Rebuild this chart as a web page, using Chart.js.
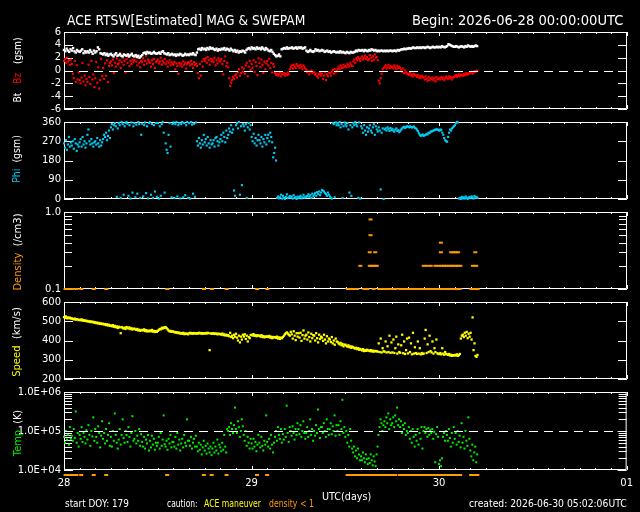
<!DOCTYPE html>
<html>
<head>
<meta charset="utf-8">
<script src="https://cdn.jsdelivr.net/npm/chart.js@4"></script>
<style>
  html, body { margin: 0; background: #000; }
  #wrap { position: relative; width: 640px; height: 512px; overflow: hidden; background: #000;
          font-family: "DejaVu Sans", sans-serif; color: #fff; }
  canvas { position: absolute; left: 0; }
  .t { position: absolute; white-space: pre; line-height: 1; }
</style>
</head>
<body>
<div id="wrap"></div>
<script>
// ACE RTSW 3-day plot: MAG + SWEPAM, hours since 2026-06-28 00:00 UTC.
// One row per hour, samples evenly spread inside the hour.

const dayTicks = [0, 24, 48, 72];
const dayLabels = ['28', '29', '30', '01'];

const bTicks = [-6, -4, -2, 0, 2, 4, 6];
const bTickLabels = ['-6', '-4', '-2', '0', '2', '4', '6'];
const phiTicks = [0, 90, 180, 270, 360];
const phiTickLabels = ['0', '90', '180', '270', '360'];
const densityTicks = [0.1, 1];
const densityTickLabels = ['0.1', '1.0'];
const speedTicks = [200, 300, 400, 500, 600];
const speedTickLabels = ['200', '300', '400', '500', '600'];
const tempTicks = [1e4, 1e5, 1e6];
const tempTickLabels = ['1.0E+04', '1.0E+05', '1.0E+06'];

// Bt (nT)
const btRows = [
  [3.2,3.0,3.4,3.1,2.9,3.3],[3.1,3.5,3.0,2.8,3.2,3.0],[2.9,3.1,3.3,2.7,3.0,2.8],[3.0,2.8,3.2,2.9,2.6,3.1],
  [2.8,3.0,3.6,3.3,2.7,2.6],[2.5,2.7,2.4,2.6,2.3,2.5],[2.6,2.4,2.2,2.5,2.7,2.3],[2.4,2.6,2.3,2.2,2.5,2.4],
  [2.3,2.5,2.2,2.4,2.6,2.3],[2.2,2.4,2.1,2.3,2.0,2.2],[2.4,2.7,2.8,2.6,2.9,2.7],[2.8,2.6,2.7,2.9,2.7,2.6],
  [2.7,2.8,2.6,2.9,3.0,2.7],[2.6,2.5,2.7,2.4,2.5,2.6],[2.4,2.5,2.3,2.5,2.4,2.6],[2.5,2.3,2.4,2.6,2.4,2.5],
  [2.4,2.6,2.5,2.7,2.5,2.4],[2.8,3.3,3.4,3.2,3.5,3.3],[3.4,3.2,3.5,3.3,3.6,3.4],[3.5,3.3,3.2,3.4,3.1,3.3],
  [3.2,3.4,3.3,3.5,3.2,3.4],[3.3,3.1,3.4,3.2,3.0,3.2],[2.9,3.1,2.8,3.0,2.9,3.1],[3.0,2.8,3.2,3.4,3.5,3.3],
  [3.6,3.4,3.5,3.3,3.6,3.4],[3.5,3.3,3.6,3.4,3.2,3.5],[3.3,3.1,3.0,3.2,2.9,2.6],[2.4,2.2,2.3,2.5,2.2,3.3],
  [3.4,3.5,3.4,3.6,3.4,3.5],[3.5,3.6,3.4,3.5,3.6,3.4],[3.6,3.5,3.6,3.4,3.5,3.6],[3.1,2.9,3.0,3.2,3.0,2.9],
  [3.0,3.3,3.1,3.2,3.0,3.1],[3.2,3.1,2.9,3.0,3.1,2.9],[3.0,2.8,2.9,3.0,2.9,2.8],[2.9,2.8,3.0,2.8,2.9,2.8],
  [2.7,2.9,2.8,2.7,2.9,2.8],[2.8,2.9,3.1,3.0,3.2,3.1],[3.1,3.2,3.0,3.2,3.1,3.0],[3.2,3.1,3.3,3.2,3.1,3.2],
  [3.0,3.1,3.0,3.1,3.1,3.0],[3.1,3.0,3.1,3.0,3.1,3.1],[3.0,3.1,3.1,3.0,3.2,3.1],[3.2,3.3,3.3,3.4,3.3,3.4],
  [3.4,3.5,3.4,3.5,3.6,3.5],[3.5,3.6,3.5,3.6,3.5,3.6],[3.6,3.5,3.6,3.7,3.6,3.5],[3.6,3.7,3.6,3.6,3.7,3.6],
  [3.7,3.6,3.8,3.7,3.6,3.7],[3.8,4.1,4.0,3.9,3.8,3.7],[3.7,3.8,3.7,3.6,3.7,3.8],[3.7,3.6,3.8,3.7,3.9,3.8],
  [3.7,3.8,3.7,3.8,3.9,3.8]
];

// Bz GSM (nT)
const bzRows = [
  [1.5,1.8,1.2,2.0,1.4,1.6,0.9,1.7],[1.0,-0.5,-1.2,1.5,-1.8,0.8,-1.4,-0.3],[-1.5,-2.0,-1.1,1.2,-1.7,-0.8,-2.3,-1.3],
  [-1.8,0.9,-1.0,-2.1,1.5,-1.4,-0.6,-2.6],[-1.2,1.3,-1.9,0.5,-2.8,-1.5,1.8,-0.9],[0.4,-1.3,1.1,-0.8,1.6,-1.8,0.7,1.2],
  [1.4,0.8,1.7,-0.4,1.2,0.6,1.9,1.0],[1.1,1.6,0.4,1.3,2.0,0.9,1.5,-0.3],[1.8,1.2,2.1,0.7,1.5,1.0,1.7,1.3],
  [1.6,2.2,1.4,0.8,1.9,1.2,0.5,1.5],[1.3,1.9,0.9,1.5,2.3,1.1,1.7,1.4],[1.2,0.6,1.6,1.0,1.8,0.4,1.3,1.5],
  [1.7,1.1,1.4,2.0,0.9,1.5,1.2,1.8],[1.0,1.4,0.6,1.2,1.6,0.8,1.3,1.1],[0.9,1.3,0.2,1.1,0.7,-0.5,1.2,0.8],
  [1.1,0.6,1.4,0.9,1.2,0.3,1.0,1.3],[1.2,0.8,1.5,1.0,0.4,1.3,0.9,1.1],[0.7,-0.4,-1.2,1.0,-0.8,1.4,0.6,1.8],
  [1.5,1.9,1.2,2.1,1.6,0.9,1.8,1.4],[1.7,1.3,2.0,0.8,1.6,1.1,1.9,1.5],[1.4,1.8,1.0,-0.6,1.5,2.2,0.7,1.2],
  [0.5,-1.2,-2.4,-1.9,-1.5,-1.0,-1.3,-0.8],[-0.6,-1.1,-0.3,0.2,-0.8,-0.4,0.5,-0.2],[0.3,-0.5,0.8,1.2,-0.9,0.6,1.5,0.1],
  [1.0,0.4,1.6,-0.2,1.3,0.7,-0.7,1.9],[1.2,0.5,1.7,0.9,-0.4,1.4,0.2,1.1],[1.5,0.8,1.8,0.4,1.2,-0.3,1.0,0.6],
  [-0.4,-0.7,-0.5,-0.8,-0.6,-0.3,-0.9,-0.5],[-0.6,-0.4,-0.8,-0.5,-0.7,-0.3,-0.6,0.2],[0.5,0.8,0.3,0.9,0.6,0.4,1.0,0.7],
  [0.7,0.4,0.9,0.6,0.2,0.8,0.5,0.3],[0.1,-0.3,-0.1,-0.6,-0.2,0.0,-0.4,-0.2],[-0.3,-0.7,-0.5,-0.9,-1.1,-0.6,-0.4,-0.8],
  [-0.5,-1.3,-0.8,-0.2,-1.5,-0.6,-0.9,-0.3],[-0.4,-0.8,-0.2,0.1,-0.5,0.2,-0.3,0.0],[0.3,0.6,0.2,0.8,0.5,0.4,0.9,0.6],
  [0.7,0.5,1.0,0.8,0.6,1.2,0.9,0.7],[1.4,1.7,1.2,1.9,1.6,2.1,1.8,1.5],[1.9,2.2,1.7,2.0,2.3,1.8,2.1,1.6],
  [1.8,2.4,2.0,1.5,2.2,1.7,2.5,2.0],[2.1,1.6,-1.6,-2.0,-1.2,-0.5,0.2,0.4],[0.5,0.8,0.3,0.6,0.9,0.4,0.7,0.5],
  [0.6,0.3,0.8,0.5,0.2,0.7,0.4,0.6],[0.4,0.1,-0.2,0.3,-0.4,0.0,-0.3,-0.5],[-0.5,-0.7,-0.4,-0.8,-0.6,-0.9,-0.5,-0.7],
  [-0.8,-1.0,-0.7,-1.1,-0.9,-1.2,-0.8,-1.0],[-1.1,-1.4,-0.9,-1.3,-1.6,-1.0,-1.5,-1.2],[-1.3,-1.1,-1.5,-1.2,-1.7,-1.0,-1.4,-1.3],
  [-1.2,-1.4,-1.0,-1.3,-1.1,-1.5,-1.2,-0.9],[-1.1,-1.3,-0.9,-1.2,-1.0,-1.4,-1.1,-1.0],[-0.9,-0.7,-1.0,-0.8,-0.6,-0.9,-0.7,-0.8],
  [-0.6,-0.8,-0.5,-0.7,-0.4,-0.6,-0.5,-0.3],[-0.4,-0.2,-0.5,-0.3,-0.1,-0.2,0.0,-0.1]
];

// Phi GSM (deg)
const phiRows = [
  [260,240,275,230,255,290,245,265],[250,270,235,280,260,225,255,245],[265,280,245,290,255,270,240,260],
  [300,325,270,255,280,260,245,265],[270,255,285,260,245,275,250,265],[280,300,290,310,275,295,320,285],
  [335,350,325,345,355,340,10,330],[355,345,5,360,350,20,340,355],[360,352,15,345,2,358,30,340],
  [355,8,348,25,360,350,5,300],[352,12,345,358,28,340,3,355],[360,20,350,5,345,35,355,10],
  [355,2,340,15,350,360,310,30],[260,230,215,300,355,245,8,350],[358,5,350,360,12,345,355,3],
  [350,360,8,355,18,345,360,5],[355,2,360,348,25,352,10,358],[270,250,285,260,240,275,255,300],
  [265,280,250,290,260,240,275,255],[260,275,245,285,290,270,250,265],[280,300,270,310,290,265,320,285],
  [300,330,315,345,310,325,40,15],[345,355,330,360,20,340,65,350],[340,320,350,5,335,355,325,345],
  [290,270,305,260,285,250,275,300],[275,260,290,245,280,265,300,255],[285,300,270,310,290,265,195,215],
  [240,180,5,12,3,8,20,2],[15,5,0,10,22,4,8,14],[6,12,2,18,5,9,0,11],
  [4,10,15,3,8,20,6,12],[8,14,22,10,18,5,25,12],[20,28,15,32,24,35,18,30],
  [42,38,35,28,22,15,30,20],[12,6,2,355,350,8,358,345],[355,345,360,335,350,5,340,358],
  [348,340,355,325,30,345,15,335],[355,345,360,350,340,5,358,2],[340,330,310,345,320,300,335,315],
  [330,345,320,310,335,350,300,340],[325,315,335,320,45,310,330,0],[325,330,320,335,328,318,332,322],
  [328,320,315,325,330,318,322,312],[318,325,330,335,338,332,336,340],[338,335,340,336,334,337,339,332],
  [330,325,318,308,300,295,298,302],[295,298,300,305,302,310,308,315],[315,318,320,322,325,324,326,322],
  [320,325,322,310,300,285,275,270],[268,290,310,325,320,330,335,340],[345,355,360,358,2,5,0,10],
  [3,8,2,12,5,0,6,10],[4,12,8,2,14,6,10,5]
];

// Proton density (/cm3), sparse
const densityHours = [
  0.2,0.6,1.1,1.6,2.2,3.8,5.4,13.2,17.9,18.9,20.8,24.7,26.0,36.3,36.7,37.1,37.5,38.4,38.8,39.6,40.3,40.7,
  41.1,41.5,42.0,42.4,43.0,43.4,43.9,44.3,44.8,45.2,45.7,46.1,46.6,47.1,47.5,48.0,48.4,48.9,49.3,49.8,50.2,50.6,
  52.1,52.5,52.9,
  37.9,39.1,39.4,39.7,40.0,46.0,46.4,46.9,47.5,47.9,48.3,48.6,48.9,49.2,49.5,49.8,50.1,50.4,50.7,52.3,52.7,
  39.1,39.8,48.2,49.5,49.8,50.1,50.4,52.6,
  48.2,39.2,39.2
];
const densityValues = [
  0.1,0.1,0.1,0.1,0.1,0.1,0.1,0.1,0.1,0.1,0.1,0.1,0.1,0.1,0.1,0.1,0.1,0.1,0.1,0.1,0.1,0.1,
  0.1,0.1,0.1,0.1,0.1,0.1,0.1,0.1,0.1,0.1,0.1,0.1,0.1,0.1,0.1,0.1,0.1,0.1,0.1,0.1,0.1,0.1,
  0.1,0.1,0.1,
  0.2,0.2,0.2,0.2,0.2,0.2,0.2,0.2,0.2,0.2,0.2,0.2,0.2,0.2,0.2,0.2,0.2,0.2,0.2,0.2,0.2,
  0.3,0.3,0.3,0.3,0.3,0.3,0.3,0.3,
  0.4,0.5,0.8
];

// Bulk speed (km/s)
const speedRows = [
  [522,518,525,515,520,516,519,514],[515,512,510,514,508,511,509,506],[508,505,510,503,506,502,504,500],
  [502,498,500,496,499,495,497,492],[495,490,493,488,491,486,489,485],[487,483,485,480,484,478,482,476],
  [478,474,480,471,476,469,473,465],[472,468,438,470,465,462,467,460],[470,466,462,468,459,464,457,460],
  [462,458,455,460,452,456,450,454],[455,452,458,449,454,447,451,448],[452,448,455,446,450,444,449,445],
  [450,455,460,458,466,462,468,465],[470,464,458,452,447,450,445,448],[446,442,444,440,443,438,441,436],
  [438,435,440,433,437,434,436,432],[437,440,436,438,435,439,437,436],[438,436,440,437,439,435,438,436],
  [437,439,436,440,438,350,437,435],[436,438,434,437,435,432,436,433],[434,430,436,428,432,426,430,425],
  [428,422,440,418,425,412,430,420],[435,415,400,425,390,420,405,430],[420,432,408,425,395,418,412,428],
  [430,426,433,424,428,422,427,425],[425,420,428,418,423,416,421,419],[422,418,424,415,420,412,418,416],
  [418,414,420,410,416,408,415,412],[418,425,432,438,442,436,430,425],[445,432,410,448,425,402,438,420],
  [438,415,440,398,428,452,410,425],[430,405,442,418,395,435,412,428],[425,400,438,412,390,430,408,420],
  [415,398,430,405,385,422,395,410],[405,392,418,385,400,378,410,395],[392,385,380,388,375,382,370,378],
  [378,372,368,375,365,370,362,368],[365,360,358,362,355,360,352,356],[352,348,355,345,350,346,352,348],
  [348,345,350,343,347,342,346,344],[345,342,385,340,410,338,360,344],[342,395,338,370,340,425,336,390],
  [338,405,335,360,420,332,380,340],[336,375,430,334,395,330,350,410],[333,415,340,385,328,440,332,365],
  [335,330,395,332,360,328,335,330],[332,410,455,335,380,340,425,345],[338,395,332,360,340,405,334,330],
  [330,335,328,360,332,326,340,330],[328,325,330,322,326,320,324,322],[325,322,328,320,324,330,410,425],
  [430,418,440,425,445,412,435,420],[440,405,520,350,385,320,315,325]
];

// Ion temperature, log10(K)
const tempLogRows = [
  [4.85,4.7,5.0,4.78,4.9,4.65,5.1,4.8],[4.88,4.75,5.05,4.82,5.5,4.7,4.95,4.6],[4.9,4.8,5.1,4.72,4.95,4.85,4.68,5.02],
  [4.78,5.15,4.9,4.62,5.0,4.86,5.35,4.75],[5.05,4.85,4.7,5.12,4.95,4.58,4.88,5.25],[4.8,4.95,4.68,5.05,4.75,4.9,5.2,4.62],
  [4.85,4.6,5.0,4.75,5.45,4.9,4.7,4.55],[4.78,5.05,4.65,4.9,5.3,4.82,4.7,5.0],[4.9,4.72,5.1,4.85,4.6,4.95,5.38,4.75],
  [4.8,5.0,4.68,4.88,4.75,5.05,4.62,4.92],[4.72,4.6,4.85,4.55,4.78,4.68,4.9,4.5],[4.75,4.58,4.88,4.65,4.8,4.52,4.7,4.62],
  [4.7,4.85,4.55,4.95,4.62,4.78,5.4,4.66],[4.6,4.75,4.52,4.8,4.68,4.9,4.58,4.72],[4.72,4.6,4.85,4.55,4.95,4.65,4.78,4.5],
  [4.68,4.8,4.58,4.9,4.7,4.62,5.3,4.75],[4.75,4.62,4.85,4.55,4.7,4.8,4.6,4.88],[4.6,4.48,4.7,4.52,4.65,4.4,4.58,4.75],
  [4.5,4.62,4.42,4.68,4.55,4.45,4.6,4.38],[4.55,4.7,4.45,4.6,4.5,4.78,4.42,4.65],[4.58,4.48,4.7,4.52,4.9,4.6,4.45,5.05],
  [5.0,5.1,4.9,5.2,5.05,4.95,5.15,5.6],[5.05,4.95,5.25,5.1,4.85,5.0,5.3,5.12],[4.9,4.75,5.0,4.62,4.85,4.7,4.55,4.8],
  [4.68,4.55,4.8,4.6,4.72,4.48,4.65,4.9],[4.7,4.58,4.85,4.62,4.5,4.75,4.65,5.4],[4.72,4.6,4.8,4.55,4.9,4.65,4.45,4.7],
  [4.85,5.0,4.75,5.1,4.9,4.8,5.05,4.7],[4.92,4.78,5.05,4.85,5.65,4.95,4.72,5.1],[5.0,4.88,5.12,4.95,4.78,5.05,4.9,5.2],
  [5.05,4.92,5.15,4.85,5.0,5.25,4.95,4.8],[4.95,5.1,4.85,5.0,5.3,4.9,5.05,4.75],[5.0,4.88,5.15,4.95,5.55,5.05,4.82,5.1],
  [5.1,4.95,5.2,5.0,4.85,5.3,5.05,4.9],[5.05,5.2,4.92,5.12,5.0,5.4,4.88,5.15],[5.0,5.15,4.9,5.25,5.05,5.8,4.95,5.1],
  [4.85,5.0,4.7,4.9,4.6,5.05,4.75,4.55],[4.45,4.6,4.35,4.5,4.3,4.55,4.4,4.25],[4.35,4.25,4.45,4.3,4.2,4.4,4.28,4.15],
  [4.3,4.18,4.4,4.25,4.12,4.35,4.22,4.1],[4.4,4.6,4.9,5.1,5.3,5.2,5.0,5.15],[5.25,5.1,5.35,5.2,5.45,5.05,5.3,5.15],
  [5.2,5.35,5.1,5.4,5.25,5.6,5.15,5.3],[5.1,5.25,4.95,5.15,5.05,5.2,4.9,5.0],[4.95,5.1,4.8,5.0,4.7,5.05,4.85,4.6],
  [4.9,4.75,5.05,4.65,4.95,4.8,5.1,4.55],[5.0,5.1,4.95,5.05,4.85,5.08,4.9,5.02],[4.95,5.05,4.8,4.98,4.2,4.92,5.1,4.85],
  [4.15,4.25,4.1,4.3,4.85,4.95,4.75,5.0],[4.9,4.75,5.05,4.82,4.6,4.95,4.7,5.1],[4.8,4.95,4.65,5.0,4.72,4.88,4.58,5.2],
  [4.7,4.85,4.55,5.0,4.75,4.62,5.35,4.8],[4.5,4.35,4.65,4.25,4.45,4.6,4.2,4.4]
];

const WHITE = '#ffffff', RED = '#ff0000', CYAN = '#00ccf4', ORANGE = '#ff9c00',
      YELLOW = '#ffff00', GREEN = '#00f000';

function rowsToPoints(rows, map = v => v) {
  const pts = [];
  rows.forEach((row, h) => row.forEach((v, j) => pts.push({ x: h + j / row.length, y: map(v) })));
  return pts;
}

function logMinors(min, max) {
  const out = [];
  for (let d = min; d < max; d *= 10) for (let k = 2; k <= 9; k++) out.push(d * k);
  return out;
}

const wrap = document.getElementById('wrap');
const PAD = 8, BOX_H = 79, X_AXIS_H = 20;

// box + inward ticks (IDL style), drawn under the data
function drawFrame(chart, p) {
  const ctx = chart.ctx, a = chart.chartArea;
  const x = chart.scales.x, y = chart.scales.y;
  ctx.save();
  ctx.strokeStyle = WHITE;
  ctx.lineWidth = 1;
  ctx.setLineDash([]);
  ctx.beginPath();
  ctx.rect(a.left + 0.5, a.top + 0.5, a.right - a.left - 1, a.bottom - a.top - 1);
  const yTick = (v, len) => {
    const py = Math.round(y.getPixelForValue(v)) + 0.5;
    ctx.moveTo(a.left, py); ctx.lineTo(a.left + len, py);
    ctx.moveTo(a.right, py); ctx.lineTo(a.right - len, py);
  };
  p.ticks.forEach(v => yTick(v, 9));
  (p.minor || []).forEach(v => yTick(v, 8));
  for (let h = 0; h <= 72; h += 2) {
    const px = Math.round(x.getPixelForValue(h)) + 0.5;
    const len = h % 24 ? 2 : 4;
    ctx.moveTo(px, a.top); ctx.lineTo(px, a.top + len);
    ctx.moveTo(px, a.bottom); ctx.lineTo(px, a.bottom - len);
  }
  ctx.stroke();
  ctx.restore();
}

function drawOver(chart, p) {
  const ctx = chart.ctx, a = chart.chartArea;
  const x = chart.scales.x, y = chart.scales.y;
  ctx.save();
  if (p.dash != null) {
    const py = Math.round(y.getPixelForValue(p.dash)) + 0.5;
    ctx.strokeStyle = WHITE;
    ctx.lineWidth = 1;
    ctx.setLineDash([9, 6]);
    ctx.beginPath(); ctx.moveTo(a.left, py); ctx.lineTo(a.right, py); ctx.stroke();
  }
  if (p.strip) {
    // density < 1 caution marks under the last panel
    ctx.setLineDash([]);
    ctx.strokeStyle = ORANGE;
    ctx.lineWidth = 2;
    ctx.beginPath();
    p.strip.forEach(h => {
      const px = x.getPixelForValue(h);
      ctx.moveTo(px - 2, a.bottom + 5); ctx.lineTo(px + 2, a.bottom + 5);
    });
    ctx.stroke();
  }
  ctx.restore();
}

function dots(data, color, r, style = 'rect') {
  return {
    data, clip: false, showLine: false,
    pointStyle: style, pointRadius: r, pointHoverRadius: r,
    pointBackgroundColor: color, pointBorderColor: color,
    pointBorderWidth: style === 'line' ? 2 : 0,
  };
}

const panels = [
  { top: 31, type: 'linear', min: -6, max: 6, ticks: bTicks, labels: bTickLabels, dash: 0,
    datasets: [dots(rowsToPoints(btRows), WHITE, 1.7), dots(rowsToPoints(bzRows), RED, 1.5)] },
  { top: 121, type: 'linear', min: 0, max: 360, ticks: phiTicks, labels: phiTickLabels,
    datasets: [dots(rowsToPoints(phiRows), CYAN, 1.5)] },
  { top: 211, type: 'logarithmic', min: 0.1, max: 1, ticks: densityTicks, labels: densityTickLabels,
    minor: logMinors(0.1, 1),
    datasets: [dots(densityHours.map((h, i) => ({ x: h, y: densityValues[i] })), ORANGE, 2, 'line')] },
  { top: 301, type: 'linear', min: 200, max: 600, ticks: speedTicks, labels: speedTickLabels,
    datasets: [dots(rowsToPoints(speedRows), YELLOW, 1.6)] },
  { top: 391, type: 'logarithmic', min: 1e4, max: 1e6, ticks: tempTicks, labels: tempTickLabels,
    minor: logMinors(1e4, 1e6), dash: 1e5, strip: densityHours, last: true,
    datasets: [dots(rowsToPoints(tempLogRows, v => Math.pow(10, v)), GREEN, 1.4)] },
];

panels.forEach(p => {
  const cv = document.createElement('canvas');
  const h = PAD + BOX_H + (p.last ? X_AXIS_H + 4 : PAD);
  cv.width = 640; cv.height = h;
  cv.style.top = (p.top - PAD) + 'px';
  wrap.appendChild(cv);
  new Chart(cv, {
    type: 'scatter',
    data: { datasets: p.datasets },
    plugins: [{
      id: 'panelFrame',
      beforeDraw: chart => drawFrame(chart, p),
      afterDatasetsDraw: chart => drawOver(chart, p),
    }],
    options: {
      animation: false, responsive: false, devicePixelRatio: 1, events: [],
      layout: { padding: { left: 0, right: 13, top: PAD, bottom: p.last ? 4 : PAD } },
      plugins: { legend: { display: false }, tooltip: { enabled: false } },
      scales: {
        x: {
          type: 'linear', min: 0, max: 72, display: !!p.last,
          grid: { display: false, drawTicks: false }, border: { display: false },
          afterBuildTicks: s => { s.ticks = dayTicks.map(v => ({ value: v })); },
          afterFit: s => { s.height = p.last ? X_AXIS_H : 0; },
          ticks: { color: WHITE, font: { family: 'DejaVu Sans', size: 10 }, padding: 7,
                   autoSkip: false, maxRotation: 0, callback: (v, i) => dayLabels[i] },
        },
        y: {
          type: p.type, min: p.min, max: p.max,
          grid: { display: false, drawTicks: false }, border: { display: false },
          afterBuildTicks: s => { s.ticks = p.ticks.map(v => ({ value: v })); },
          afterFit: s => { s.width = 64; },
          ticks: { color: WHITE, font: { family: 'DejaVu Sans', size: 10 }, padding: 3,
                   autoSkip: false, callback: (v, i) => p.labels[i] },
        },
      },
    },
  });
});

// text, squeezed to the widths of the original vector font
function text(html, left, cy, width, size) {
  const d = document.createElement('div');
  d.className = 't';
  d.style.fontSize = size + 'px';
  d.innerHTML = html;
  wrap.appendChild(d);
  const w = d.offsetWidth;
  d.style.left = left + 'px';
  d.style.top = (cy - size * 0.5) + 'px';
  d.style.transformOrigin = '0 50%';
  d.style.transform = `scaleX(${width / w})`;
}

function vtext(html, cx, cy, len, size) {
  const d = document.createElement('div');
  d.className = 't';
  d.style.fontSize = size + 'px';
  d.innerHTML = html;
  wrap.appendChild(d);
  const w = d.offsetWidth, hgt = d.offsetHeight;
  d.style.left = (cx - w / 2) + 'px';
  d.style.top = (cy - hgt / 2) + 'px';
  d.style.transformOrigin = '50% 50%';
  d.style.transform = `rotate(-90deg) scaleX(${len / w})`;
}

const c = (col, s) => `<span style="color:${col}">${s}</span>`;

text('ACE RTSW[Estimated] MAG &amp; SWEPAM', 67, 20, 238, 14);
text('Begin: 2026-06-28 00:00:00UTC', 412, 20, 211, 14);

vtext(`Bt   ${c(RED, 'Bz')}   (gsm)`, 17, 70, 65, 10);
vtext(`${c(CYAN, 'Phi')}  (gsm)`, 17, 159, 48, 10);
vtext(`${c(ORANGE, 'Density')}  (/cm3)`, 17, 252, 77, 10);
vtext(`${c(YELLOW, 'Speed')}  (km/s)`, 17, 342, 70, 10);
vtext(`${c(GREEN, 'Temp')}  (K)`, 17, 433, 46, 10);

text('UTC(days)', 322, 496, 49, 11);
text('start DOY: 179', 65, 504, 64, 10);
text('caution:', 167, 504, 31, 10);
text(c(YELLOW, 'ACE maneuver'), 204, 504, 57, 10);
text(c(ORANGE, 'density &lt; 1'), 269, 504, 45, 10);
text('created: 2026-06-30 05:02:06UTC', 469, 504, 158, 10);
</script>
</body>
</html>
